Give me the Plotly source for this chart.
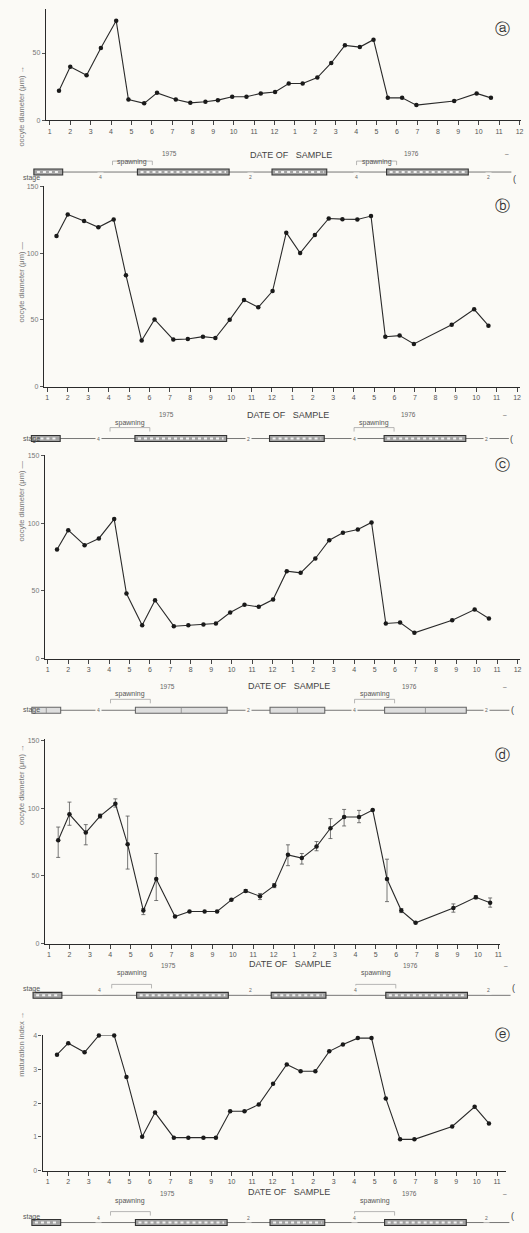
import plotly.graph_objects as go

W, H = 529, 1233
SP = 20.5  # pixels per month on every time axis

# ---------------- data ----------------
# sampling dates, in months counted from January 1975 (= 1)
sample_month = [1.45, 2.0, 2.8, 3.5, 4.25, 4.85, 5.62, 6.25, 7.17, 7.88, 8.62, 9.23,
                9.93, 10.63, 11.33, 12.03, 12.7, 13.38, 14.1, 14.78, 15.45, 16.18,
                16.85, 17.55, 18.25, 18.95, 20.8, 21.9, 22.6]

diam_a = [22, 39.7, 33.5, 53.7, 74, 15.5, 12.6, 20.4, 15.5, 13, 13.8, 15, 17.5, 17.5,
          20, 21, 27.3, 27.3, 31.8, 42.6, 55.7, 54.4, 59.9, 16.7, 16.7, 11.3, 14.3, 20, 16.7]

diam_b = [112.8, 128.9, 124, 119.3, 125.2, 83.5, 34.6, 50.4, 35.3, 35.8, 37.5, 36.5,
          50.1, 64.9, 59.5, 71.6, 115.3, 100, 113.6, 125.9, 125.4, 125.2, 127.7,
          37.5, 38.3, 32.1, 46.4, 58, 45.7]

diam_c = [80.5, 94.8, 83.7, 88.7, 103, 48, 24.6, 43.1, 23.9, 24.6, 25.1, 25.9, 34,
          39.7, 38.2, 43.6, 64.5, 63.3, 73.9, 87.4, 92.9, 95.3, 100.5, 25.9, 26.6,
          19, 28.3, 36.2, 29.6]

diam_d = [76.3, 95.4, 81.9, 94.1, 103.2, 73.3, 24.4, 47.7, 20, 23.7, 23.7, 23.7, 32.3,
          38.9, 35, 42.8, 65.5, 63.1, 71.6, 85.1, 93.4, 93.4, 98.5, 47.7, 24.4, 15.4,
          26.2, 34.2, 30.1]
diam_d_err_up = [9.7, 9, 5.9, 1.5, 3.6, 20.8, 1.5, 18.8, 0, 0, 0, 0, 0, 1, 2, 1.5,
                 7.4, 3.4, 3.7, 7.1, 5.6, 4.9, 0, 14.6, 1.5, 0, 3.1, 1.2, 3.6]
diam_d_err_down = [12.7, 8.1, 9, 1.5, 2.5, 18.3, 3, 15.9, 0, 0, 0, 0, 0, 1, 2.5, 1.5,
                   8, 4.4, 3.1, 7.6, 6.6, 4.2, 0, 16.7, 1.5, 0, 3, 1.2, 3.2]

maturation_e = [3.43, 3.77, 3.5, 4.0, 4.0, 2.77, 1.01, 1.72, 0.98, 0.98, 0.98, 0.98,
                1.76, 1.76, 1.96, 2.57, 3.14, 2.94, 2.94, 3.53, 3.73, 3.92, 3.92, 2.14,
                0.93, 0.93, 1.31, 1.89, 1.40]

# gonad stage bar (months)
stage_spans = [(0.22, 1.63), (5.29, 9.78), (11.88, 14.56), (17.49, 21.49)]
stage_marks = [(3.49, "4"), (10.85, "2"), (16.02, "4"), (22.5, "2")]
stage_end = 23.6
spawning_spans = [(4.07, 6.02), (16.02, 17.98)]
year_labels = [(6.85, "1975"), (12.8, "DATE OF   SAMPLE"), (18.7, "1976"), (23.4, "–")]

# ---------------- layout geometry (pixels) ----------------
panels = [
    dict(letter="ⓐ", y=diam_a, title="oocyte diameter (μm) →", yticks=[0, 50],
         left=46, right=523, m1=50, zero=117, top=5, ymax=82.7, nm=24, let_y=14, title_y=60),
    dict(letter="ⓑ", y=diam_b, title="oocyte diameter (μm) —", yticks=[0, 50, 100, 150],
         left=44, right=522, m1=47.5, zero=385, top=183.3, ymax=150, nm=24, let_y=192, title_y=237),
    dict(letter="ⓒ", y=diam_c, title="oocyte diameter (μm) —", yticks=[0, 50, 100, 150],
         left=45, right=522, m1=48, zero=658.3, top=454, ymax=150, nm=24, let_y=464, title_y=500,
         pale=True),
    dict(letter="ⓓ", y=diam_d, title="oocyte diameter (μm) →", yticks=[0, 50, 100, 150],
         left=45, right=502, m1=49.2, zero=945, top=739, ymax=151.1, nm=23, let_y=755, title_y=785,
         err=(diam_d_err_up, diam_d_err_down)),
    dict(letter="ⓔ", y=maturation_e, title="maturation index →", yticks=[0, 1, 2, 3, 4],
         left=42.7, right=508, m1=48, zero=1173.5, top=1037.3, ymax=4.0, nm=23, let_y=1048, title_y=1081),
]

FONT = "Liberation Sans, Arial, sans-serif"
INK = "#2a2a2a"
BG = "#fbfaf6"
CLEAR = "rgba(0,0,0,0)"


def py(y):
    return 1 - y / H


def px(x):
    return x / W


fig = go.Figure()
layout = dict(width=W, height=H, autosize=False, margin=dict(l=0, r=0, t=0, b=0),
              paper_bgcolor=BG, plot_bgcolor=CLEAR, showlegend=False)
shapes, annotations = [], []

for i, p in enumerate(panels):
    n = i + 1
    h = n + 5  # helper axis spanning the page width for the stage row
    xs = "" if n == 1 else str(n)

    tr = dict(x=sample_month, y=p["y"], xaxis=f"x{xs}", yaxis=f"y{xs}",
              mode="lines+markers", line=dict(color=INK, width=1.1),
              marker=dict(size=4.5, color="#1a1a1a"), hoverinfo="skip", cliponaxis=False)
    if "err" in p:
        tr["error_y"] = dict(type="data", symmetric=False, array=p["err"][0],
                             arrayminus=p["err"][1], color="#555", thickness=0.8, width=2)
    fig.add_trace(go.Scatter(**tr))
    fig.add_trace(go.Scatter(x=[], y=[], xaxis=f"x{h}", yaxis=f"y{h}"))

    lo = 1 + (p["left"] - p["m1"]) / SP
    hi = 1 + (p["right"] - p["m1"]) / SP
    ticks = list(range(1, p["nm"] + 1))
    layout[f"xaxis{xs}"] = dict(
        domain=[px(p["left"]), px(p["right"])], range=[lo, hi], anchor=f"y{xs}",
        showline=True, linecolor=INK, linewidth=1.2, ticks="outside", ticklen=4,
        tickcolor="#444", tickwidth=1, tickvals=ticks,
        ticktext=[str((k - 1) % 12 + 1) for k in ticks],
        tickfont=dict(size=7, color="#555", family=FONT),
        showgrid=False, zeroline=False)
    layout[f"yaxis{xs}"] = dict(
        domain=[py(p["zero"]), py(p["top"])], range=[0, p["ymax"]], anchor=f"x{xs}",
        showline=True, linecolor=INK, linewidth=1.2, ticks="outside", ticklen=3,
        tickcolor="#555", tickvals=p["yticks"],
        tickfont=dict(size=7, color="#777", family=FONT),
        showgrid=False, zeroline=False)
    layout[f"xaxis{h}"] = dict(domain=[0, 1], range=[1 - p["m1"] / SP, 1 + (W - p["m1"]) / SP],
                               visible=False, anchor=f"y{h}")
    layout[f"yaxis{h}"] = dict(domain=[0, 1], range=[0, 1], visible=False, anchor=f"x{h}")
    hx = f"x{h}"

    # y-axis title and panel letter
    annotations.append(dict(x=px(15), y=py(p["title_y"]), xref="paper", yref="paper",
                            text=p["title"], textangle=-90, showarrow=False,
                            font=dict(size=7.5, color="#777", family=FONT)))
    annotations.append(dict(x=px(514), y=py(p["let_y"]), xref="paper", yref="paper",
                            text=p["letter"], showarrow=False,
                            font=dict(size=15, color="#333", family="DejaVu Sans")))

    z = p["zero"]
    yr_y, sp_y, st_y = z + 28, z + 38, z + 52

    for m, t in year_labels:
        big = t.startswith("DATE")
        annotations.append(dict(x=m, y=py(yr_y), xref=hx, yref="paper", text=t,
                                showarrow=False,
                                font=dict(size=9 if big else 6.5, color="#444" if big else "#666",
                                          family=FONT)))

    # spawning brackets
    for a, b in spawning_spans:
        annotations.append(dict(x=(a + b) / 2, y=py(sp_y - 2), xref=hx, yref="paper",
                                text="spawning", showarrow=False,
                                font=dict(size=7, color="#555", family=FONT)))
        for xx0, xx1, yy0, yy1 in [(a, b, sp_y + 3, sp_y + 3), (a, a, sp_y + 3, sp_y + 7),
                                   (b, b, sp_y + 3, sp_y + 7)]:
            shapes.append(dict(type="line", xref=hx, yref="paper", x0=xx0, x1=xx1,
                               y0=py(yy0), y1=py(yy1), line=dict(color="#999", width=0.7)))

    # stage row
    pale = p.get("pale", False)
    box_fill = "#dedede" if pale else "#a3a3a3"
    box_edge = "#666" if pale else "#333"
    annotations.append(dict(x=px(21), y=py(st_y), xref="paper", yref="paper", text="stage",
                            showarrow=False, font=dict(size=7, color="#555", family=FONT)))
    shapes.append(dict(type="line", xref=hx, yref="paper", x0=stage_spans[0][1], x1=stage_end,
                       y0=py(st_y), y1=py(st_y), line=dict(color="#555", width=0.8)))
    for a, b in stage_spans:
        shapes.append(dict(type="rect", xref=hx, yref="paper", x0=a, x1=b,
                           y0=py(st_y + 3), y1=py(st_y - 3), fillcolor=box_fill,
                           line=dict(color=box_edge, width=1.1)))
        if not pale:
            shapes.append(dict(type="line", xref=hx, yref="paper", x0=a + 0.15, x1=b - 0.15,
                               y0=py(st_y), y1=py(st_y),
                               line=dict(color="#f2f2f2", width=2, dash="dot")))
        else:
            mid = (a + b) / 2
            shapes.append(dict(type="line", xref=hx, yref="paper", x0=mid, x1=mid,
                               y0=py(st_y + 3), y1=py(st_y - 3),
                               line=dict(color="#888", width=0.8)))
    for m, t in stage_marks:
        annotations.append(dict(x=m, y=py(st_y), xref=hx, yref="paper", text=t,
                                showarrow=False, bgcolor=BG,
                                font=dict(size=5, color="#666", family=FONT)))
    annotations.append(dict(x=stage_end + 0.15, y=py(st_y), xref=hx, yref="paper", text="(",
                            showarrow=False, font=dict(size=9, color="#444", family=FONT)))

layout["shapes"] = shapes
layout["annotations"] = annotations
fig.update_layout(**layout)
fig.write_html("out.html")
